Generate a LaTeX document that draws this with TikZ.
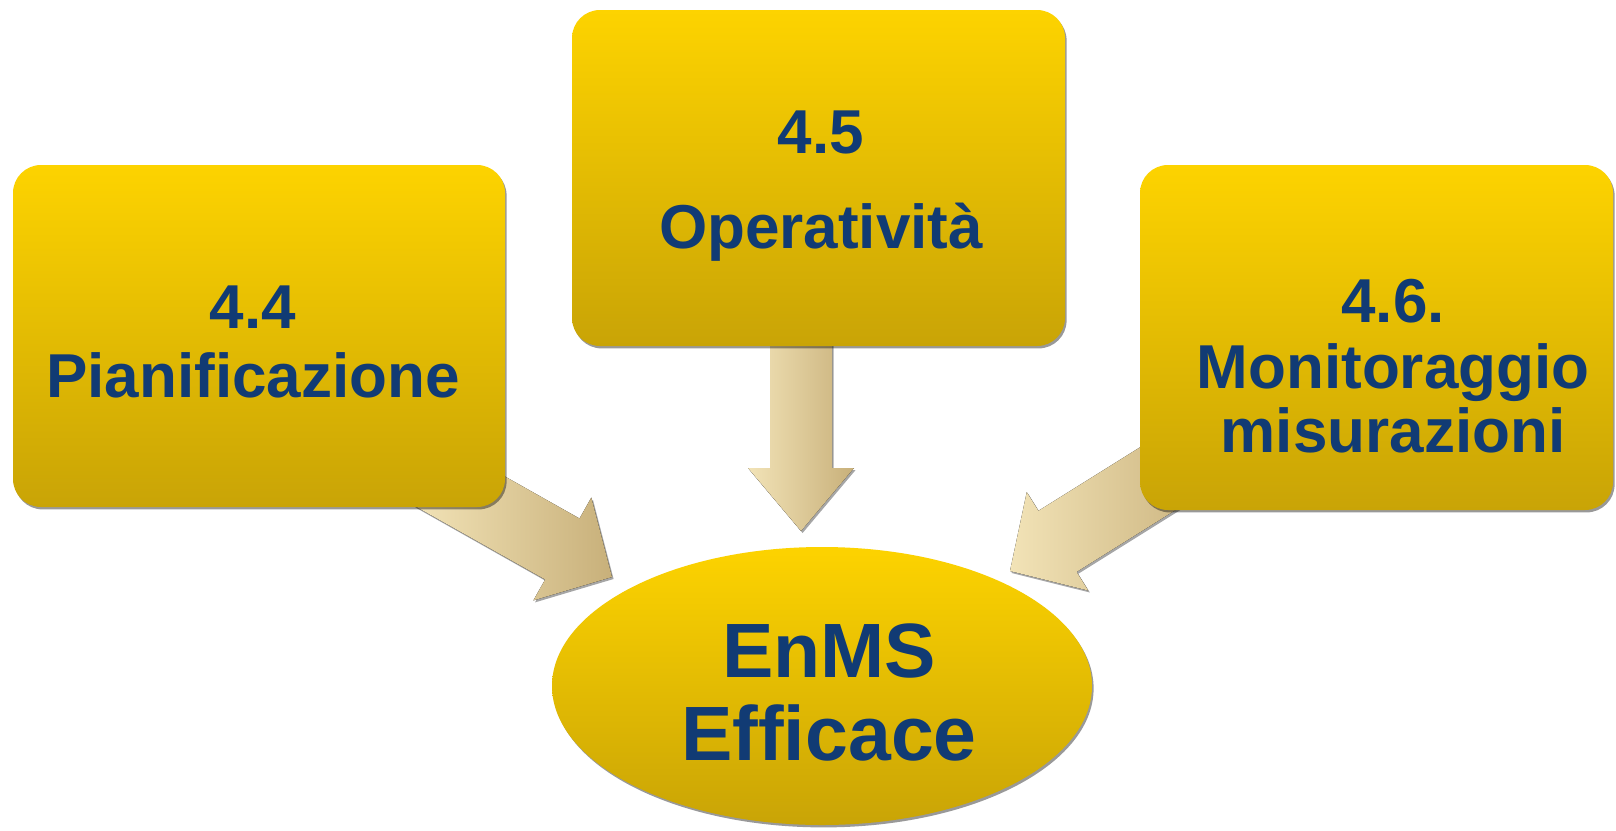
\documentclass[tikz,border=0pt]{standalone}
\usepackage{fontspec}
\setmainfont{Liberation Sans}
\usetikzlibrary{calc,shadows,backgrounds,shapes.geometric}

\definecolor{goldtop}{HTML}{FDD300}
\definecolor{goldbot}{HTML}{C9A406}
\definecolor{navy}{HTML}{113B74}
\definecolor{tanlight}{HTML}{F2E3B7}
\definecolor{tandark}{HTML}{C8B07A}

% block arrow: start, tip, shaft half width, head half width, head length
\newcommand\blockarrow[5]{%
  \coordinate (#1-hb) at ($(#2)!#5!(#1)$);
  \fill[flow] ($(#1)!#3!90:(#2)$) -- ($(#1-hb)!#3!90:(#2)$)
    -- ($(#1-hb)!#4!90:(#2)$) -- (#2)
    -- ($(#1-hb)!#4!-90:(#2)$) -- ($(#1-hb)!#3!-90:(#2)$)
    -- ($(#1)!#3!-90:(#2)$) -- cycle;
}

\begin{document}
\begin{tikzpicture}[x=0.5pt,y=-0.5pt,
  softshadow/.style={drop shadow={shadow xshift=0.8pt, shadow yshift=-1.2pt, opacity=0.4, fill=black}},
  box/.style={rectangle, rounded corners=14pt, top color=goldtop, bottom color=goldbot,
              draw=none, softshadow},
  goal/.style={ellipse, top color=goldtop, bottom color=goldbot, draw=none, softshadow},
  lbl/.style={text=navy, font=\bfseries\fontsize{31pt}{31pt}\selectfont, anchor=base, inner sep=0pt},
  big/.style={text=navy, font=\bfseries\fontsize{38.5pt}{38.5pt}\selectfont, anchor=base, inner sep=0pt},
  flow/.style={left color=tanlight, right color=tandark,
               drop shadow={shadow xshift=0.8pt, shadow yshift=-1pt, opacity=0.35, fill=black}}
]
\useasboundingbox (0,0) rectangle (1616,830);

% boxes and goal
\node[box, minimum width=246pt, minimum height=171pt] (pian) at (259,336) {};
\node[box, minimum width=246.5pt, minimum height=168pt] (oper) at (818.5,178) {};
\node[box, minimum width=236.5pt, minimum height=172.5pt] (moni) at (1376.5,337.5) {};
\node[goal, minimum width=270pt, minimum height=139pt] (enms) at (822,686) {};

% labels
\node[lbl] (pian-n) at (253,328) {4.4};
\node[lbl] (pian-t) at (253,397) {Pianificazione};
\node[lbl] (oper-n) at (821,153) {4.5};
\node[lbl] (oper-t) at (821,248) {Operatività};
\node[lbl] (moni-n) at (1393,322) {4.6.};
\node[lbl] (moni-t) at (1393,388) {Monitoraggio};
\node[lbl] (moni-u) at (1393,452) {misurazioni};
\node[big] (enms-a) at (829,677) {EnMS};
\node[big] (enms-b) at (829,760) {Efficace};

% arrows behind the boxes
\begin{pgfonlayer}{background}
  \fill[white] (0,0) rectangle (1616,830);
  \coordinate (pian-s) at (431,475);
  \coordinate (pian-e) at (612,577);
  \coordinate (oper-s) at (801,300);
  \coordinate (oper-e) at (801,531);
  \coordinate (moni-s) at (1202,451);
  \coordinate (moni-e) at (1010,571);
  \blockarrow{pian-s}{pian-e}{17.5pt}{29.5pt}{28.5pt}
  \blockarrow{oper-s}{oper-e}{15.5pt}{26.5pt}{31.5pt}
  \blockarrow{moni-s}{moni-e}{18pt}{29pt}{28pt}
\end{pgfonlayer}
\end{tikzpicture}
\end{document}
